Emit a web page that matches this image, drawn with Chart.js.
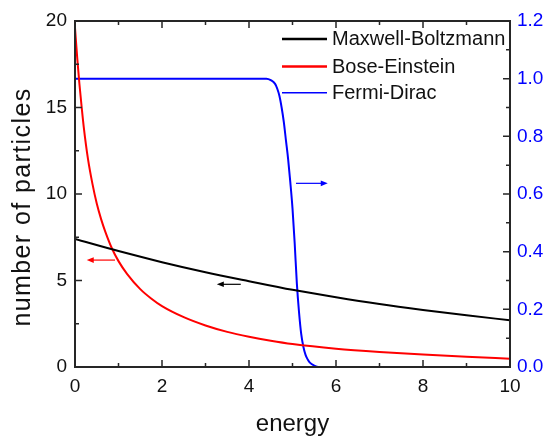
<!DOCTYPE html>
<html>
<head>
<meta charset="utf-8">
<script src="https://cdn.jsdelivr.net/npm/chart.js@4"></script>
<style>
  html, body { margin: 0; padding: 0; background: #fff; }
  canvas { display: block; }
</style>
</head>
<body>
<canvas id="distChart" width="547" height="440"></canvas>
<script>
// values
const mbEnergy = [0, 1, 2, 3, 4, 5, 6, 7, 8, 9, 10];
const mbCount = [7.4, 6.7, 6.06, 5.48, 4.96, 4.46, 4.03, 3.64, 3.3, 2.99, 2.7];

const beEnergy = [0, 0.05, 0.1, 0.15, 0.2, 0.3, 0.4, 0.5, 0.6, 0.7, 0.85, 1.0, 1.2, 1.5, 1.75,
                  2, 2.5, 3, 3.5, 4, 4.5, 5, 6, 7, 8, 9, 10];
const beCount = [19.6, 17.9, 16.4, 15.1, 13.9, 12.0, 10.6, 9.45, 8.55, 7.8, 6.85, 6.12, 5.37, 4.5, 3.96,
                 3.52, 2.88, 2.4, 2.03, 1.75, 1.52, 1.33, 1.06, 0.87, 0.72, 0.59, 0.48];

const fdEnergy = [0, 4.4, 4.5, 4.6, 4.65, 4.7, 4.75, 4.8, 4.85, 4.9, 4.95, 5.0, 5.05, 5.1, 5.15,
                  5.2, 5.25, 5.3, 5.35, 5.4, 5.5, 5.6, 10];
const fdCount = [1, 1, 0.995, 0.982, 0.965, 0.94, 0.9, 0.85, 0.785, 0.72, 0.64, 0.55, 0.43, 0.29, 0.19,
                 0.115, 0.07, 0.042, 0.026, 0.015, 0.005, 0, 0];

const seriesNames = ['Maxwell-Boltzmann', 'Bose-Einstein', 'Fermi-Dirac'];
const xTicks = [0, 2, 4, 6, 8, 10];
const yTicks = [0, 5, 10, 15, 20];
const y1Ticks = [0, 0.2, 0.4, 0.6, 0.8, 1.0, 1.2];
const xTitle = 'energy';
const yTitle = 'number of particles';

// arrows telling which axis each curve belongs to: series index, [x, y] start and end
const arrowSeries = [1, 0, 2];
const arrowAxis = ['y', 'y', 'y1'];
const arrowFrom = [[0.92, 6.18], [3.81, 4.78], [5.08, 0.637]];
const arrowTo = [[0.27, 6.18], [3.26, 4.78], [5.81, 0.637]];

const FONT = '"Liberation Sans", Arial, sans-serif';
const colors = ['#000000', '#ff0000', '#0000ff'];

const toPoints = (xs, ys) => xs.map((x, i) => ({ x: x, y: ys[i] }));

// frame, inward ticks, titles, arrows and legend
const decorations = {
  id: 'decorations',
  afterDraw(chart) {
    const { ctx, chartArea: a, scales } = chart;
    ctx.save();

    // ticks (major 7px, minor 4px) pointing into the plot
    ctx.strokeStyle = '#262626';
    ctx.lineWidth = 1.5;
    ctx.beginPath();
    const xs = scales.x, ys = scales.y, y1 = scales.y1;
    xTicks.forEach((v, i) => {
      const p = xs.getPixelForValue(v);
      ctx.moveTo(p, a.bottom); ctx.lineTo(p, a.bottom - 7);
      ctx.moveTo(p, a.top); ctx.lineTo(p, a.top + 7);
      if (i < xTicks.length - 1) {
        const m = xs.getPixelForValue((v + xTicks[i + 1]) / 2);
        ctx.moveTo(m, a.bottom); ctx.lineTo(m, a.bottom - 4);
        ctx.moveTo(m, a.top); ctx.lineTo(m, a.top + 4);
      }
    });
    yTicks.forEach((v, i) => {
      const p = ys.getPixelForValue(v);
      ctx.moveTo(a.left, p); ctx.lineTo(a.left + 7, p);
      if (i < yTicks.length - 1) {
        const m = ys.getPixelForValue((v + yTicks[i + 1]) / 2);
        ctx.moveTo(a.left, m); ctx.lineTo(a.left + 4, m);
      }
    });
    y1Ticks.forEach((v, i) => {
      const p = y1.getPixelForValue(v);
      ctx.moveTo(a.right, p); ctx.lineTo(a.right - 7, p);
      if (i < y1Ticks.length - 1) {
        const m = y1.getPixelForValue((v + y1Ticks[i + 1]) / 2);
        ctx.moveTo(a.right, m); ctx.lineTo(a.right - 4, m);
      }
    });
    ctx.stroke();
    ctx.lineWidth = 2;
    ctx.strokeRect(a.left, a.top, a.right - a.left, a.bottom - a.top);

    // arrows
    arrowFrom.forEach((f, i) => {
      const sy = scales[arrowAxis[i]];
      const col = colors[arrowSeries[i]];
      const x0 = xs.getPixelForValue(f[0]), y0 = sy.getPixelForValue(f[1]);
      const x1 = xs.getPixelForValue(arrowTo[i][0]), y1p = sy.getPixelForValue(arrowTo[i][1]);
      const dir = Math.sign(x1 - x0);
      ctx.strokeStyle = col;
      ctx.fillStyle = col;
      ctx.lineWidth = 1.2;
      ctx.beginPath();
      ctx.moveTo(x0, y0); ctx.lineTo(x1 - dir * 5, y1p);
      ctx.stroke();
      ctx.beginPath();
      ctx.moveTo(x1, y1p);
      ctx.lineTo(x1 - dir * 7, y1p - 2.8);
      ctx.lineTo(x1 - dir * 7, y1p + 2.8);
      ctx.closePath();
      ctx.fill();
    });

    // legend
    const rows = [39, 66.5, 92.7];
    const widths = [2.5, 2.5, 1.5];
    ctx.font = '20px ' + FONT;
    ctx.textAlign = 'left';
    ctx.textBaseline = 'middle';
    chart.data.datasets.forEach((ds, i) => {
      ctx.strokeStyle = ds.borderColor;
      ctx.lineWidth = widths[i];
      ctx.beginPath();
      ctx.moveTo(282, rows[i]); ctx.lineTo(327, rows[i]);
      ctx.stroke();
      ctx.fillStyle = '#111';
      ctx.fillText(ds.label, 332, rows[i] + 0.5);
    });

    // axis titles
    ctx.fillStyle = '#111';
    ctx.textBaseline = 'alphabetic';
    ctx.textAlign = 'center';
    ctx.font = '24px ' + FONT;
    ctx.fillText(xTitle, (a.left + a.right) / 2, 431);
    ctx.save();
    ctx.translate(30, 207);
    ctx.rotate(-Math.PI / 2);
    ctx.font = '25px ' + FONT;
    if ('letterSpacing' in ctx) ctx.letterSpacing = '1.4px';
    ctx.fillText(yTitle, 0, 0);
    ctx.restore();

    ctx.restore();
  }
};

new Chart(document.getElementById('distChart'), {
  type: 'line',
  data: {
    datasets: [
      { label: seriesNames[0], data: toPoints(mbEnergy, mbCount), borderColor: colors[0], yAxisID: 'y' },
      { label: seriesNames[1], data: toPoints(beEnergy, beCount), borderColor: colors[1], yAxisID: 'y' },
      { label: seriesNames[2], data: toPoints(fdEnergy, fdCount), borderColor: colors[2], yAxisID: 'y1' }
    ]
  },
  options: {
    responsive: false,
    animation: false,
    layout: { padding: { top: 21, left: 0, right: 0, bottom: 0 } },
    elements: {
      point: { radius: 0 },
      line: { borderWidth: 2, cubicInterpolationMode: 'monotone', fill: false }
    },
    plugins: { legend: { display: false }, tooltip: { enabled: false } },
    scales: {
      x: {
        type: 'linear', min: 0, max: 10,
        grid: { display: false, drawTicks: false },
        border: { display: false },
        afterFit: (s) => { s.height = 73; },
        afterBuildTicks: (s) => { s.ticks = xTicks.map(v => ({ value: v })); },
        ticks: { padding: 8, color: '#111', font: { family: FONT, size: 19 } }
      },
      y: {
        position: 'left', min: 0, max: 20,
        grid: { display: false, drawTicks: false },
        border: { display: false },
        afterFit: (s) => { s.width = 75; },
        afterBuildTicks: (s) => { s.ticks = yTicks.map(v => ({ value: v })); },
        ticks: { padding: 8, color: '#111', font: { family: FONT, size: 19 } }
      },
      y1: {
        position: 'right', min: 0, max: 1.2,
        grid: { display: false, drawTicks: false },
        border: { display: false },
        afterFit: (s) => { s.width = 37; },
        afterBuildTicks: (s) => { s.ticks = y1Ticks.map(v => ({ value: v })); },
        ticks: {
          padding: 7, color: '#0000ff', font: { family: FONT, size: 19 },
          callback: (v) => Number(v).toFixed(1)
        }
      }
    }
  },
  plugins: [decorations]
});
</script>
</body>
</html>
